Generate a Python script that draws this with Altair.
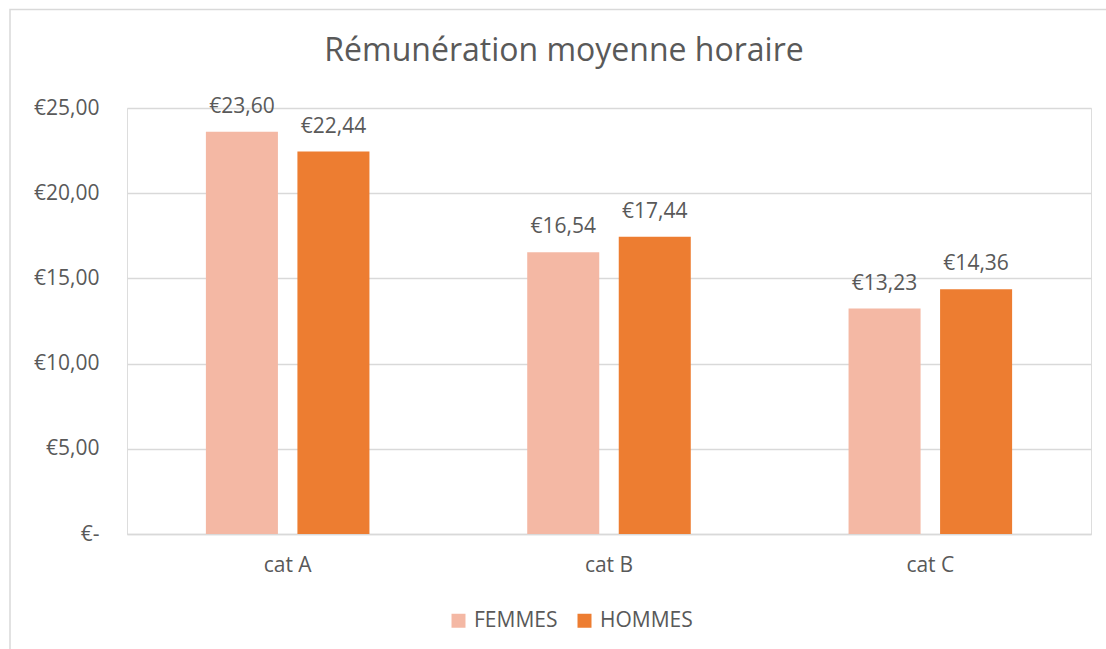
import altair as alt
import pandas as pd

categories = ["cat A", "cat B", "cat C"]
series = ["FEMMES", "HOMMES"]
femmes = [23.60, 16.54, 13.23]
hommes = [22.44, 17.44, 14.36]
y_ticks = [0, 5, 10, 15, 20, 25]
colors = ["#F4B8A4", "#ED7D31"]

rows = []
for c, f, h in zip(categories, femmes, hommes):
    rows.append({"cat": c, "sexe": "FEMMES", "val": f})
    rows.append({"cat": c, "sexe": "HOMMES", "val": h})
df = pd.DataFrame(rows)
df["label"] = df["val"].map(lambda v: "€" + f"{v:.2f}".replace(".", ","))

FONT = "Open Sans"
TXT = "#595959"
GRID = "#D9D9D9"

PL, PT = 127, 108
W, H = 964, 426

x_enc = alt.X("cat:N", sort=categories, title=None,
              scale=alt.Scale(paddingInner=0.491, paddingOuter=0.2455),
              axis=alt.Axis(labelAngle=0, labelFontSize=21, labelColor=TXT, labelFont=FONT,
                            domainColor=GRID, domainWidth=1.5, ticks=False, labelPadding=20))
xo_enc = alt.XOffset("sexe:N", sort=series,
                     scale=alt.Scale(domain=series, paddingInner=0.213, paddingOuter=0))
y_enc = alt.Y("val:Q", title=None,
              scale=alt.Scale(domain=[0, 25], nice=False),
              axis=alt.Axis(values=y_ticks, domain=False, ticks=False, gridColor=GRID,
                            gridWidth=1.5, labelFontSize=21, labelColor=TXT, labelFont=FONT,
                            labelPadding=28,
                            labelExpr="datum.value == 0 ? '€-' : '€' + replace(format(datum.value, '.2f'), '.', ',')"))

bars = alt.Chart(df).mark_bar().encode(
    x=x_enc, xOffset=xo_enc, y=y_enc,
    color=alt.Color("sexe:N", sort=series,
                    scale=alt.Scale(domain=series, range=colors),
                    legend=alt.Legend(title=None, orient="none", direction="horizontal",
                                      legendX=321, legendY=502, padding=0,
                                      symbolType="square", symbolSize=196, symbolStrokeWidth=0,
                                      labelFontSize=21, labelColor=TXT, labelFont=FONT,
                                      labelOffset=5, columnPadding=16)),
)

labels = alt.Chart(df).mark_text(baseline="alphabetic", dy=-19, fontSize=21, color=TXT,
                                 font=FONT).encode(
    x=alt.X("cat:N", sort=categories), xOffset=alt.XOffset("sexe:N", sort=series), y="val:Q",
    text="label:N",
)

border = alt.Chart(pd.DataFrame({"k": [0]})).mark_rect(
    fill=None, stroke=GRID, strokeWidth=1.5).encode(
    x=alt.value(10 - PL), x2=alt.value(1110 - PL),
    y=alt.value(9.5 - PT), y2=alt.value(655 - PT),
)

chart = alt.layer(border, bars, labels).properties(
    width=W, height=H,
    autosize=alt.AutoSizeParams(type="none"),
    padding={"left": PL, "top": PT, "right": 1106 - PL - W, "bottom": 649 - PT - H},
    title=alt.TitleParams("Rémunération moyenne horaire", font=FONT, fontSize=32,
                          fontWeight="normal", color=TXT, anchor="middle", dx=-45,
                          baseline="alphabetic", offset=0, dy=84),
).configure_view(stroke=None).configure(background="white")

chart.save("out.html", embed_options={"renderer": "svg", "actions": False})
